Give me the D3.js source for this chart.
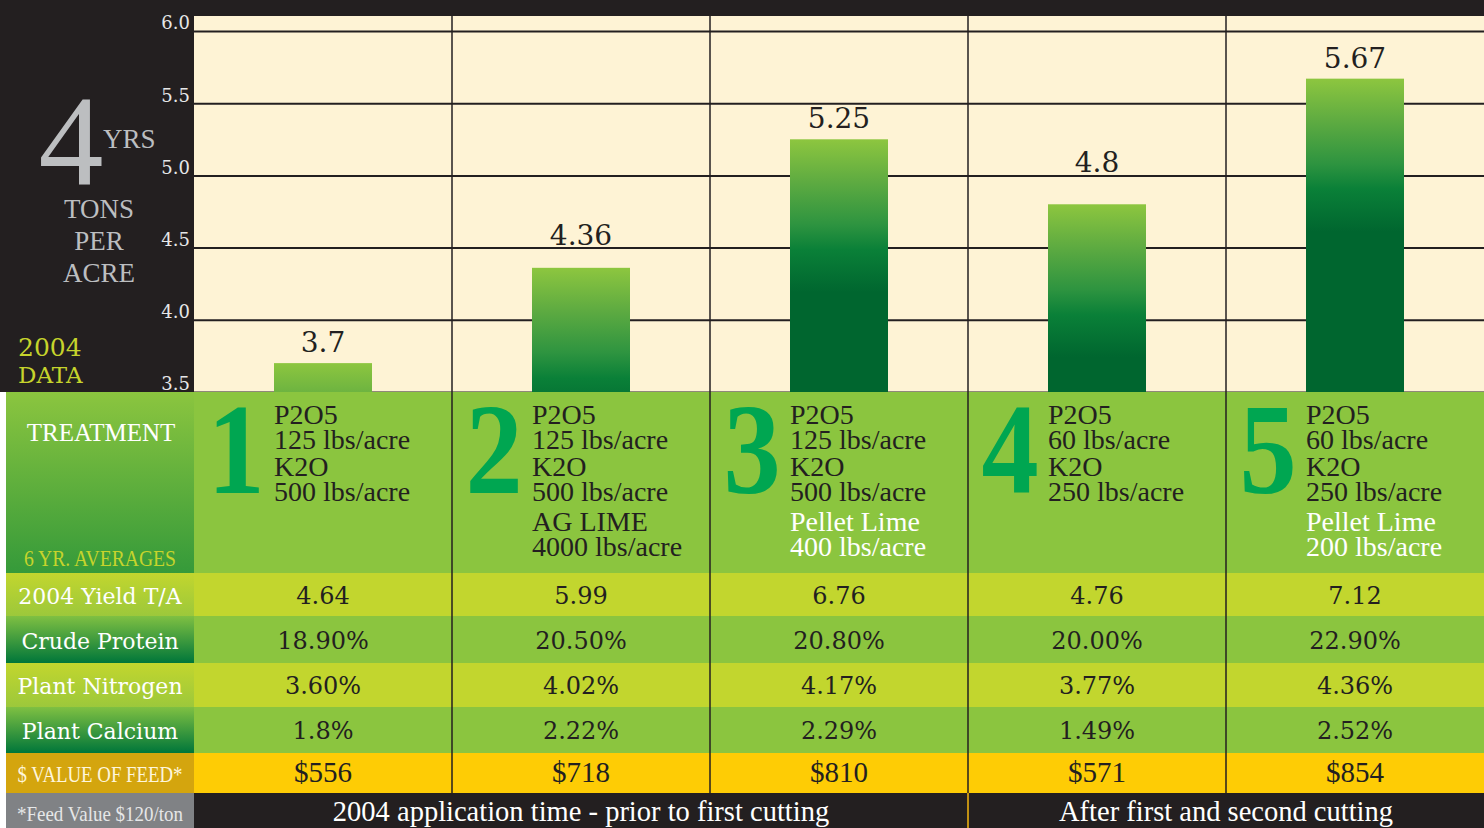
<!DOCTYPE html>
<html><head><meta charset="utf-8">
<script src="https://cdn.jsdelivr.net/npm/d3@7"></script>
<style>body{margin:0;background:#fff}svg{display:block}</style>
</head><body><svg id="c" width="1484" height="828"></svg>
<script>
// ---------- DATA ----------
const treatments = ["1", "2", "3", "4", "5"];
const yieldTons = [3.7, 4.36, 5.25, 4.8, 5.67];
const yTicks = [3.5, 4.0, 4.5, 5.0, 5.5, 6.0];
const p2o5Rate = [125, 125, 125, 60, 60];
const k2oRate = [500, 500, 500, 250, 250];
const limeType = ["", "AG LIME", "Pellet Lime", "", "Pellet Lime"];
const limeRate = [null, 4000, 400, null, 200];
const yield2004 = [4.64, 5.99, 6.76, 4.76, 7.12];
const crudeProtein = [18.9, 20.5, 20.8, 20.0, 22.9];
const plantNitrogen = [3.60, 4.02, 4.17, 3.77, 4.36];
const plantCalcium = [1.8, 2.22, 2.29, 1.49, 2.52];
const feedValue = [556, 718, 810, 571, 854];
const periodLabels = ["2004 application time - prior to first cutting", "After first and second cutting"];
const periodFirst = ["1", "4"];
const periodLast = ["3", "5"];

// ---------- STYLE / LAYOUT ----------
const DARK = "#231f20", CREAM = "#fef3d5", GREEN = "#8bc53f", LIME = "#c2d62e",
      GOLD = "#fecc05", GOLDH = "#d4a50e", GRAY = "#808285", BIG = "#00a651",
      LIGHTTXT = "#bcbec0", YEL = "#c6d42c";
const SERIF = "'DejaVu Serif', serif", TIMES = "'Liberation Serif', 'Times New Roman', serif";
const W = 1484, H = 828;
const plotL = 194, plotR = 1484, plotT = 16, plotB = 392, leftX = 6;

const svg = d3.select("#c");
const defs = svg.append("defs");

const x = d3.scaleBand().domain(treatments).range([plotL, plotR]);
const y = d3.scaleLinear().domain([3.5, 6.0]).range([plotB, 31]);

// backgrounds
svg.append("rect").attr("x", 0).attr("y", 0).attr("width", W).attr("height", plotT).attr("fill", DARK);
svg.append("rect").attr("x", 0).attr("y", 0).attr("width", plotL).attr("height", plotB).attr("fill", DARK);
svg.append("rect").attr("x", plotL).attr("y", plotT).attr("width", plotR - plotL).attr("height", plotB - plotT).attr("fill", CREAM);

// gridlines + tick labels
const yAxis = d3.axisLeft(y).tickValues(yTicks).tickSize(-(plotR - plotL)).tickPadding(4).tickFormat(d3.format(".1f"));
const ga = svg.append("g").attr("transform", `translate(${plotL},0)`).call(yAxis);
ga.select(".domain").remove();
ga.selectAll(".tick line").attr("stroke", DARK).attr("stroke-width", 2);
ga.selectAll(".tick text").attr("fill", "#e6e7e8").attr("font-family", SERIF).attr("font-size", 18).attr("dy", "-0.12em");

// left title panel
const lp = svg.append("g");
lp.append("text").attr("x", 71).attr("y", 185).attr("text-anchor", "middle").attr("font-family", TIMES)
  .attr("font-size", 130).attr("fill", LIGHTTXT).text("4");
lp.append("text").attr("x", 103).attr("y", 148).attr("font-family", TIMES).attr("font-size", 27).attr("fill", LIGHTTXT).text("YRS");
[["TONS", 218], ["PER", 250], ["ACRE", 282]].forEach(([t, yy]) =>
  lp.append("text").attr("x", 99).attr("y", yy).attr("text-anchor", "middle").attr("font-family", TIMES)
    .attr("font-size", 27).attr("fill", LIGHTTXT).text(t));
lp.append("text").attr("x", 18).attr("y", 356).attr("font-family", SERIF).attr("font-size", 25).attr("fill", YEL).text("2004");
lp.append("text").attr("x", 18).attr("y", 383).attr("font-family", SERIF).attr("font-size", 23).attr("fill", YEL).text("DATA");

// bars
const barW = 98;
const barData = treatments.map((t, i) => ({ t, v: yieldTons[i], i }));
barData.forEach(d => {
  const g = defs.append("linearGradient").attr("id", "bg" + d.i).attr("gradientUnits", "userSpaceOnUse")
    .attr("x1", 0).attr("x2", 0).attr("y1", y(d.v)).attr("y2", y(d.v) + 170);
  [[0, "#8dc63f"], [0.25, "#5eab41"], [0.5, "#2e9440"], [0.65, "#0a8038"], [0.9, "#00662f"], [1, "#00662f"]]
    .forEach(([o, c]) => g.append("stop").attr("offset", o).attr("stop-color", c));
});
svg.append("g").selectAll("rect").data(barData).join("rect")
  .attr("x", d => x(d.t) + x.bandwidth() / 2 - barW / 2)
  .attr("y", d => y(d.v))
  .attr("width", barW)
  .attr("height", d => y(3.5) - y(d.v))
  .attr("fill", d => `url(#bg${d.i})`);

// value labels: sit above bar; nudge up so they rest on a gridline instead of being crossed by it
const LBL = 28, capH = 21;
function labelBase(v) {
  let b = y(v) - 11;
  yTicks.forEach(t => { const ty = y(t); if (ty > b - capH && ty < b + 2) b = ty - 3; });
  return b;
}
svg.append("g").selectAll("text").data(barData).join("text")
  .attr("x", d => x(d.t) + x.bandwidth() / 2)
  .attr("y", d => labelBase(d.v))
  .attr("text-anchor", "middle").attr("font-family", SERIF).attr("font-size", LBL).attr("fill", DARK)
  .text(d => d.v);

// ---------- TABLE ----------
function vgrad(id, c0, c1) {
  const g = defs.append("linearGradient").attr("id", id).attr("x1", 0).attr("x2", 0).attr("y1", 0).attr("y2", 1);
  g.append("stop").attr("offset", 0).attr("stop-color", c0);
  g.append("stop").attr("offset", 1).attr("stop-color", c1);
  return `url(#${id})`;
}

// treatment row
const tY0 = plotB, tY1 = 573;
svg.append("rect").attr("x", leftX).attr("y", tY0).attr("width", W - leftX).attr("height", tY1 - tY0).attr("fill", GREEN);
svg.append("rect").attr("x", leftX).attr("y", tY0).attr("width", plotL - leftX).attr("height", tY1 - tY0)
  .attr("fill", vgrad("thg", "#8bc53f", "#359a3a"));
svg.append("text").attr("x", 101).attr("y", 441).attr("text-anchor", "middle").attr("font-family", TIMES)
  .attr("font-size", 25).attr("fill", "#fff").text("TREATMENT");
svg.append("text").attr("x", 24).attr("y", 566).attr("font-family", TIMES).attr("font-size", 24)
  .attr("textLength", 152).attr("lengthAdjust", "spacingAndGlyphs").attr("fill", YEL).text("6 YR. AVERAGES");

treatments.forEach((t, i) => {
  const x0 = x(t);
  svg.append("text").attr("transform", `translate(${x0 + 42},493) scale(0.88,1)`).attr("text-anchor", "middle")
    .attr("font-family", TIMES).attr("font-weight", "bold").attr("font-size", 130).attr("fill", BIG).text(t);
  const lines = [
    ["P2O5", DARK, 424], [p2o5Rate[i] + " lbs/acre", DARK, 449],
    ["K2O", DARK, 476], [k2oRate[i] + " lbs/acre", DARK, 501]
  ];
  if (limeType[i]) {
    const c = limeType[i] === "AG LIME" ? DARK : "#fff";
    lines.push([limeType[i], c, 531], [limeRate[i] + " lbs/acre", c, 556]);
  }
  lines.forEach(([txt, c, yy]) =>
    svg.append("text").attr("x", x0 + 80).attr("y", yy).attr("font-family", TIMES).attr("font-size", 28)
      .attr("fill", c).text(txt));
});

// data rows
const rows = [
  { label: "2004 Yield T/A", vals: yield2004, fmt: d => d.toFixed(2), bg: LIME, lg: ["#c2d62e", "#9cc83b"] },
  { label: "Crude Protein", vals: crudeProtein, fmt: d => d.toFixed(2) + "%", bg: GREEN, lg: ["#7fc042", "#00763a"] },
  { label: "Plant Nitrogen", vals: plantNitrogen, fmt: d => d.toFixed(2) + "%", bg: LIME, lg: ["#c2d62e", "#9cc83b"] },
  { label: "Plant Calcium", vals: plantCalcium, fmt: d => String(d) + "%", bg: GREEN, lg: ["#7fc042", "#00763a"] },
  { label: "$ VALUE OF FEED*", vals: feedValue, fmt: d => "$" + d, bg: GOLD, lg: [GOLDH, GOLDH], cond: true }
];
const rowEdges = [573, 616, 663, 707, 753, 793];
rows.forEach((r, ri) => {
  const y0 = rowEdges[ri], y1 = rowEdges[ri + 1], base = (y0 + y1) / 2 + 9;
  svg.append("rect").attr("x", leftX).attr("y", y0).attr("width", W - leftX).attr("height", y1 - y0).attr("fill", r.bg);
  svg.append("rect").attr("x", leftX).attr("y", y0).attr("width", plotL - leftX).attr("height", y1 - y0)
    .attr("fill", vgrad("rg" + ri, r.lg[0], r.lg[1]));
  const lt = svg.append("text").attr("x", 100).attr("y", base).attr("text-anchor", "middle").text(r.label);
  if (r.cond) lt.attr("font-family", TIMES).attr("font-size", 23).attr("textLength", 165)
    .attr("lengthAdjust", "spacingAndGlyphs").attr("fill", "#fef6dc");
  else lt.attr("font-family", SERIF).attr("font-size", 22).attr("fill", "#fff");
  svg.append("g").selectAll("text").data(r.vals).join("text")
    .attr("x", (d, i) => x(treatments[i]) + x.bandwidth() / 2)
    .attr("y", base)
    .attr("text-anchor", "middle")
    .attr("font-family", r.cond ? TIMES : SERIF)
    .attr("font-size", r.cond ? 29 : 24)
    .attr("fill", DARK)
    .text(r.fmt);
});

// vertical dividers
svg.append("g").selectAll("line").data(treatments.slice(1)).join("line")
  .attr("x1", d => x(d)).attr("x2", d => x(d)).attr("y1", plotT).attr("y2", 793)
  .attr("stroke", DARK).attr("stroke-width", 1.5);

// bottom row
svg.append("rect").attr("x", plotL).attr("y", 793).attr("width", plotR - plotL).attr("height", H - 793).attr("fill", DARK);
svg.append("rect").attr("x", leftX).attr("y", 793).attr("width", plotL - leftX).attr("height", H - 793).attr("fill", GRAY);
svg.append("text").attr("x", 17).attr("y", 821).attr("font-family", TIMES).attr("font-size", 21)
  .attr("textLength", 166).attr("lengthAdjust", "spacingAndGlyphs").attr("fill", "#e6e7e8").text("*Feed Value $120/ton");
periodLabels.forEach((p, i) => {
  const a = x(periodFirst[i]), b = x(periodLast[i]) + x.bandwidth();
  svg.append("text").attr("x", (a + b) / 2).attr("y", 821).attr("text-anchor", "middle")
    .attr("font-family", TIMES).attr("font-size", 28.5).attr("fill", "#fff").text(p);
});
svg.append("line").attr("x1", x(periodFirst[1])).attr("x2", x(periodFirst[1])).attr("y1", 793).attr("y2", H)
  .attr("stroke", "#f6b70f").attr("stroke-width", 1.5);
</script>
</body></html>
